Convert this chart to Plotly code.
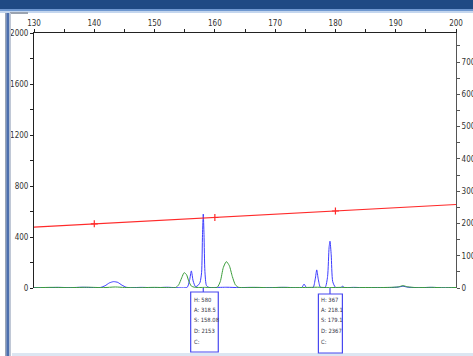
import plotly.graph_objects as go

# ---------------- data ----------------
x_ticks = [130, 140, 150, 160, 170, 180, 190, 200]
left_ticks = [0, 400, 800, 1200, 1600, 2000]
right_ticks = [0, 1000, 2000, 3000, 4000, 5000, 6000, 7000]

blue_size = [130, 132, 134, 136, 138, 140, 141.0, 141.8, 142.5, 143.2, 143.9, 144.6, 145.3, 146,
             148, 150, 152, 153.5, 155.4, 155.8, 156.1, 156.4, 156.8, 157.3, 157.55, 157.8, 157.95,
             158.08, 158.2, 158.35, 158.6, 159, 160, 162, 164, 166, 168, 170, 172, 174.4, 174.8,
             175.2, 176.3, 176.65, 176.9, 177.15, 177.5, 178.3, 178.7, 178.95, 179.1, 179.3, 179.55,
             180, 180.9, 181.2, 181.5, 183, 185, 187, 189, 190.5, 191.2, 192, 194, 196, 198, 200]
blue_rfu = [4, 2, 5, 3, 6, 3, 4, 18, 40, 50, 44, 22, 6, 3,
            5, 2, 6, 3, 5, 60, 134, 55, 10, 25, 45, 120, 420,
            580, 420, 130, 20, 5, 4, 6, 3, 5, 2, 4, 5, 3, 31,
            3, 4, 70, 142, 70, 6, 5, 90, 320, 367, 260, 50,
            6, 3, 14, 3, 5, 2, 4, 3, 8, 14, 6, 3, 5, 2, 4]

green_size = [130, 133, 136, 139, 141.5, 143.5, 145, 147, 150, 152, 153.5, 154.0, 154.5, 154.9,
              155.3, 155.7, 156.1, 156.6, 157.5, 158.5, 159.5, 160.4, 160.9, 161.4, 161.9, 162.4,
              162.9, 163.4, 163.9, 165, 167, 169, 171, 173, 175, 177, 179, 181, 183, 185, 187, 189,
              190.4, 191.2, 192, 193.5, 196, 198, 200]
green_rfu = [2, 5, 3, 6, 3, 8, 4, 2, 5, 3, 4, 25, 80, 120,
             105, 50, 15, 6, 4, 5, 3, 6, 50, 160, 207, 175,
             90, 25, 6, 3, 5, 2, 5, 3, 4, 6, 3, 5, 2, 4, 3, 5,
             8, 18, 9, 3, 5, 2, 4]

sizing_x = [130, 140, 160, 180, 200]
sizing_y = [478, 503, 553, 604, 655]
sizing_marks_x = [140, 160, 180]
sizing_marks_y = [503, 553, 604]

peak_size = [158.08, 179.1]
peak_labels = [["H: 580", "A: 318.5", "S: 158.08", "D: 2153", "C:"],
               ["H: 367", "A: 218.1", "S: 179.1", "D: 2367", "C:"]]

# ---------------- figure ----------------
W, H = 473, 356
L, R, T, B = 34, 17, 33, 68
pw, ph = W - L - R, H - T - B


def px(xpix):
    return (xpix - L) / pw


def py(ypix):
    return (H - B - ypix) / ph


FONT = "Liberation Sans Narrow, Arial Narrow, DejaVu Sans Condensed, Liberation Sans, Arial, sans-serif"
BLUE = "#3c3cff"
GREEN = "#3a9d3a"
RED = "#ff2a2a"

fig = go.Figure()
fig.add_trace(go.Scatter(x=blue_size, y=blue_rfu, mode="lines",
                         line=dict(color=BLUE, width=1, shape="spline", smoothing=0.6),
                         showlegend=False, hoverinfo="skip"))
fig.add_trace(go.Scatter(x=green_size, y=green_rfu, mode="lines",
                         line=dict(color=GREEN, width=1, shape="spline", smoothing=0.6),
                         showlegend=False, hoverinfo="skip"))
fig.add_trace(go.Scatter(x=sizing_x, y=sizing_y, mode="lines",
                         line=dict(color=RED, width=1.2),
                         showlegend=False, hoverinfo="skip"))
fig.add_trace(go.Scatter(x=sizing_marks_x, y=sizing_marks_y, mode="markers",
                         marker=dict(symbol="cross-thin", size=5, line=dict(color=RED, width=1.2)),
                         showlegend=False, hoverinfo="skip"))
# dummy trace to attach right axis
fig.add_trace(go.Scatter(x=[130], y=[0], yaxis="y2", mode="lines", line=dict(width=0),
                         showlegend=False, hoverinfo="skip"))

tickfont = dict(family=FONT, size=8, color="#333333")

fig.update_layout(
    width=W, height=H,
    margin=dict(l=L, r=R, t=T, b=B, pad=0, autoexpand=False),
    paper_bgcolor="white", plot_bgcolor="white",
    xaxis=dict(range=[130, 200], side="top", tickvals=x_ticks, ticks="outside", ticklen=3,
               tickcolor="#222", showline=True, linecolor="#222", linewidth=1, mirror=False,
               showgrid=False, zeroline=False, tickfont=tickfont, automargin=False,
               minor=dict(dtick=5, tick0=130, ticks="outside", ticklen=3, tickcolor="#222")),
    yaxis=dict(range=[0, 2000], tickvals=left_ticks, ticks="outside", ticklen=3, tickcolor="#222",
               showline=True, linecolor="#222", linewidth=1, showgrid=False, zeroline=False,
               tickfont=tickfont, automargin=False,
               minor=dict(dtick=200, tick0=0, ticks="outside", ticklen=3, tickcolor="#222")),
    yaxis2=dict(range=[0, 7900], overlaying="y", side="right", anchor="x", tickvals=right_ticks,
                ticks="outside", ticklen=3, tickcolor="#555", showline=True, linecolor="#555",
                linewidth=1, showgrid=False, zeroline=False, tickfont=tickfont, automargin=False,
                minor=dict(dtick=500, tick0=0, ticks="outside", ticklen=3, tickcolor="#555")),
)

shapes = []
# window frame decorations
shapes.append(dict(type="rect", xref="paper", yref="paper", x0=px(0), x1=px(W), y0=py(0), y1=py(9),
                   fillcolor="#1f4a84", line=dict(width=0), layer="above"))
shapes.append(dict(type="rect", xref="paper", yref="paper", x0=px(0), x1=px(W), y0=py(9), y1=py(11),
                   fillcolor="#6f98d0", line=dict(width=0), layer="above"))
shapes.append(dict(type="rect", xref="paper", yref="paper", x0=px(0), x1=px(W), y0=py(11), y1=py(13),
                   fillcolor="#c4d6ee", line=dict(width=0), layer="above"))
shapes.append(dict(type="rect", xref="paper", yref="paper", x0=px(10), x1=px(28), y0=py(12), y1=py(14),
                   fillcolor="#9aa3b0", line=dict(width=0), layer="above"))
shapes.append(dict(type="rect", xref="paper", yref="paper", x0=px(5), x1=px(6.3), y0=py(13), y1=py(H),
                   fillcolor="#9aa5b5", line=dict(width=0), layer="above"))
shapes.append(dict(type="rect", xref="paper", yref="paper", x0=px(6.3), x1=px(9.5), y0=py(13), y1=py(H),
                   fillcolor="#4d6fad", line=dict(width=0), layer="above"))
shapes.append(dict(type="rect", xref="paper", yref="paper", x0=px(9.5), x1=px(11), y0=py(13), y1=py(H),
                   fillcolor="#c0c8d6", line=dict(width=0), layer="above"))
shapes.append(dict(type="rect", xref="paper", yref="paper", x0=px(12), x1=px(W), y0=py(353), y1=py(H),
                   fillcolor="#dce6f2", line=dict(width=0), layer="above"))

annotations = []
box_left_off = [12.6, 11.6]   # pixels left of connector
box_right_off = [15.0, 12.4]  # pixels right of connector
box_top = [292, 294]
box_bottom = [352, 353]
xscale = pw / (200 - 130)
for i, s in enumerate(peak_size):
    shapes.append(dict(type="line", xref="x", yref="paper", x0=s, x1=s, y0=py(288), y1=py(box_top[i]),
                       line=dict(color="#4848f0", width=1.2)))
    shapes.append(dict(type="rect", xref="x", yref="paper",
                       x0=s - box_left_off[i] / xscale, x1=s + box_right_off[i] / xscale,
                       y0=py(box_bottom[i]), y1=py(box_top[i]),
                       line=dict(color="#4848f0", width=1.2), fillcolor="rgba(0,0,0,0)"))
    for j, t in enumerate(peak_labels[i]):
        annotations.append(dict(xref="x", yref="paper", x=s - (box_left_off[i] - 1.0) / xscale,
                                y=py([300, 310, 320, 330.5, 341.5][j]), text=t, showarrow=False,
                                xanchor="left", yanchor="middle",
                                font=dict(family=FONT, size=5.8, color="#333344")))

fig.update_layout(shapes=shapes, annotations=annotations)
fig.write_html("out.html", config={"displayModeBar": False},
               post_script="document.body.style.margin='0';document.body.style.overflow='hidden';")
